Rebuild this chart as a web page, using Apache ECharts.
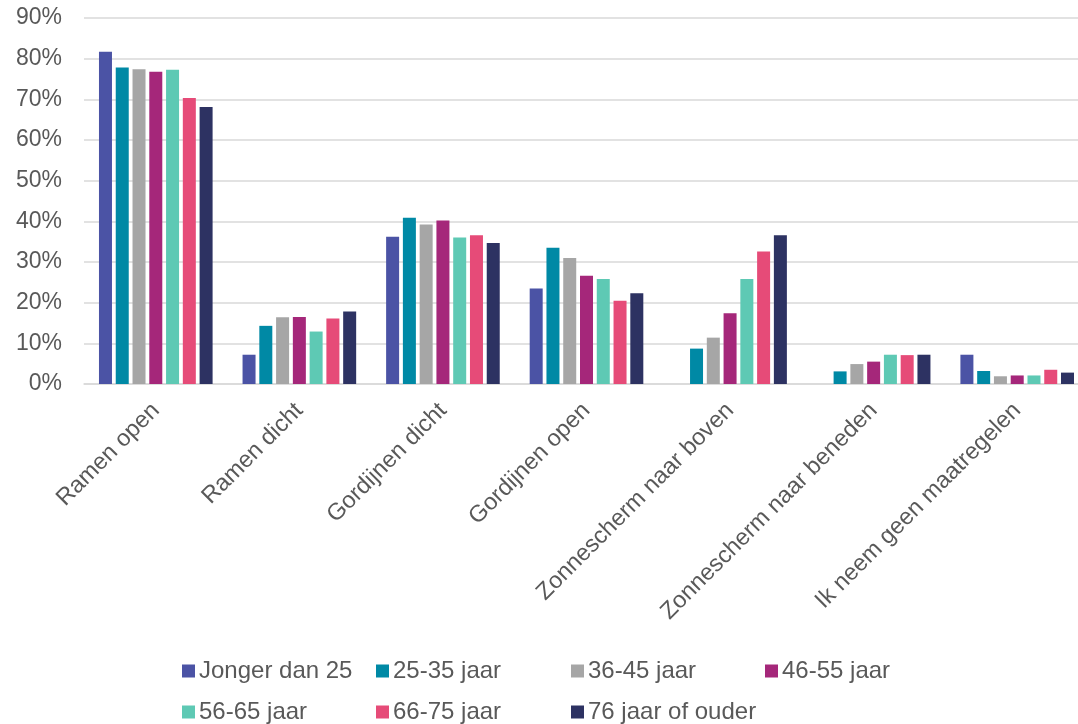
<!DOCTYPE html>
<html>
<head>
<meta charset="utf-8">
<script src="https://cdn.jsdelivr.net/npm/echarts@6/dist/echarts.min.js"></script>
<style>
  html, body { margin: 0; padding: 0; background: #fff; }
  #chart { width: 1078px; height: 724px; }
</style>
</head>
<body>
<div id="chart"></div>
<script>
// Maatregelen bij warmte, naar leeftijdsgroep (percentage van respondenten)
const categories = [
  'Ramen open', 'Ramen dicht', 'Gordijnen dicht', 'Gordijnen open',
  'Zonnescherm naar boven', 'Zonnescherm naar beneden', 'Ik neem geen maatregelen'
];
const groups = [
  'Jonger dan 25', '25-35 jaar', '36-45 jaar', '46-55 jaar',
  '56-65 jaar', '66-75 jaar', '76 jaar of ouder'
];
const jongerDan25 = [81.7, 7.2, 36.2, 23.5, 0, 0, 7.2];
const jaar25_35   = [77.8, 14.3, 40.9, 33.5, 8.7, 3.1, 3.2];
const jaar36_45   = [77.4, 16.4, 39.2, 31.0, 11.4, 4.9, 1.9];
const jaar46_55   = [76.8, 16.5, 40.2, 26.6, 17.4, 5.5, 2.1];
const jaar56_65   = [77.3, 12.9, 36.0, 25.8, 25.8, 7.2, 2.1];
const jaar66_75   = [70.3, 16.1, 36.6, 20.5, 32.6, 7.1, 3.5];
const jaar76plus  = [68.1, 17.8, 34.7, 22.3, 36.6, 7.2, 2.8];
const yTicks = { min: 0, max: 90, interval: 10 };

const seriesValues = [jongerDan25, jaar25_35, jaar36_45, jaar46_55, jaar56_65, jaar66_75, jaar76plus];
const colors = ['#4b53a5', '#0089a5', '#a6a6a6', '#a5277a', '#5ec9b4', '#e64b78', '#2d3262'];

const font = "'Liberation Sans', Arial, sans-serif";
const textColor = '#595959';

const chart = echarts.init(document.getElementById('chart'), null, { renderer: 'canvas' });

// Legend laid out as a 4-column grid, one vertical legend per column
const legendCols = [
  { left: 182, items: [groups[0], groups[4]] },
  { left: 376, items: [groups[1], groups[5]] },
  { left: 571, items: [groups[2], groups[6]] },
  { left: 765, items: [groups[3]] }
];

const option = {
  animation: false,
  color: colors,
  textStyle: { fontFamily: font },
  // the plot runs a little past the right edge of the canvas
  grid: { left: 84, top: 18, bottom: 340, width: 1005, containLabel: false, outerBoundsMode: 'none' },
  legend: legendCols.map(c => ({
    data: c.items,
    orient: 'vertical',
    left: c.left,
    top: 659,
    itemWidth: 13,
    itemHeight: 13,
    itemGap: 17,
    icon: 'rect',
    padding: 0,
    textStyle: { fontFamily: font, fontSize: 24, color: textColor, lineHeight: 24, padding: [0, 0, 0, -1] }
  })),
  xAxis: {
    type: 'category',
    data: categories,
    axisLine: { lineStyle: { color: '#d9d9d9', width: 1.5 } },
    axisTick: { show: false },
    axisLabel: {
      interval: 0,
      rotate: 45,
      margin: 23,
      fontFamily: font,
      fontSize: 23.5,
      color: textColor
    }
  },
  yAxis: {
    type: 'value',
    min: yTicks.min,
    max: yTicks.max,
    interval: yTicks.interval,
    axisLine: { show: false },
    axisTick: { show: false },
    splitLine: { lineStyle: { color: '#d9d9d9', width: 1.5 } },
    axisLabel: {
      formatter: '{value}%',
      margin: 22,
      fontFamily: font,
      fontSize: 23,
      color: textColor
    }
  },
  series: groups.map((name, i) => ({
    name: name,
    type: 'bar',
    data: seriesValues[i],
    barWidth: 13,
    barGap: '29%',
    itemStyle: { color: colors[i] }
  }))
};

chart.setOption(option);
</script>
</body>
</html>
